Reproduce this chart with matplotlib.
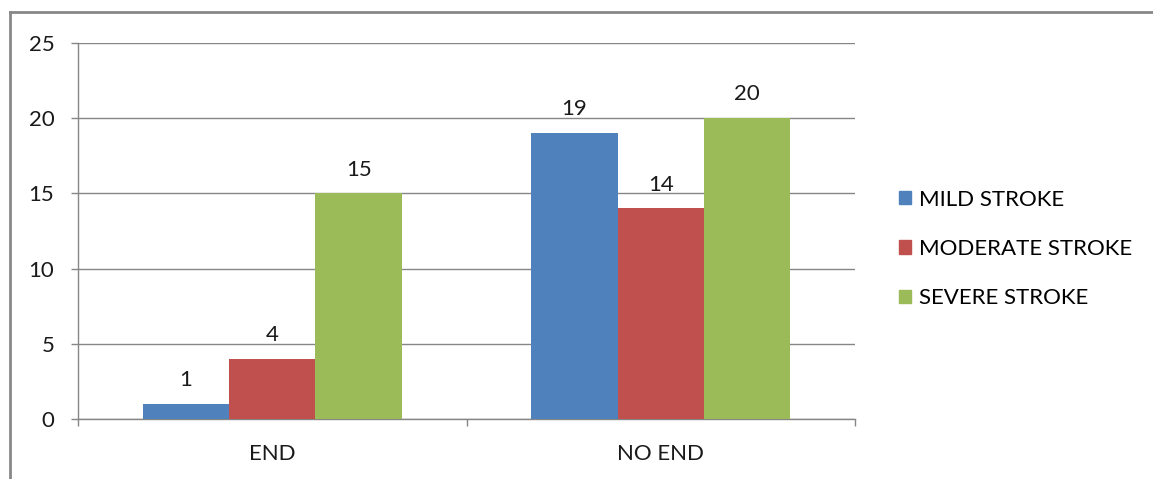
import matplotlib
matplotlib.use("Agg")
import matplotlib.pyplot as plt
from matplotlib.lines import Line2D
import numpy as np

categories = ["END", "NO END"]
series_names = ["MILD STROKE", "MODERATE STROKE", "SEVERE STROKE"]
mild = [1, 19]
moderate = [4, 14]
severe = [15, 20]
yticks = [0, 5, 10, 15, 20, 25]

colors = ["#4F81BD", "#C0504D", "#9BBB59"]
grid_color = "#868686"
fs = 16

plt.rcParams["font.family"] = ["Lato", "DejaVu Sans"]

W, H = 1153, 479
fig = plt.figure(figsize=(W / 100, H / 100), dpi=100)
ax = fig.add_axes([78 / W, 1 - 419 / H, (855 - 78) / W, (419 - 43) / H])

x = np.arange(len(categories))
bw = 1 / 4.5
values = [mild, moderate, severe]
for i, (name, vals, c) in enumerate(zip(series_names, values, colors)):
    pos = x + (i - 1) * bw
    bars = ax.bar(pos, vals, width=bw, color=c, label=name, zorder=3)
    for b, v in zip(bars, vals):
        ax.annotate(str(v), (b.get_x() + b.get_width() / 2, v),
                    xytext=(0, 10), textcoords="offset points",
                    ha="center", va="bottom", fontsize=fs, color="#1a1a1a")

ax.set_xlim(-0.5, 1.5)
ax.set_ylim(0, 25)
ax.set_yticks(yticks)
ax.set_yticklabels([str(t) for t in yticks], fontsize=fs, color="#1a1a1a")
ax.yaxis.grid(True, color=grid_color, linewidth=1, zorder=0)
ax.set_axisbelow(True)

# category labels centered, tick marks on category boundaries
ax.set_xticks(x)
ax.set_xticklabels(categories, fontsize=fs, color="#1a1a1a")
ax.tick_params(axis="x", which="major", length=0, pad=18)
ax.set_xticks([-0.5, 0.5, 1.5], minor=True)
ax.tick_params(axis="x", which="minor", length=5, color=grid_color, width=1)
ax.tick_params(axis="y", length=5, color=grid_color, width=1, pad=12)

for s in ["top", "right"]:
    ax.spines[s].set_visible(False)
for s in ["left", "bottom"]:
    ax.spines[s].set_color(grid_color)
    ax.spines[s].set_linewidth(1)

handles = [plt.Rectangle((0, 0), 1, 1, color=c) for c in colors]
fig.legend(handles, series_names, loc="center left",
           bbox_to_anchor=(879 / W, 1 - 249 / H), frameon=False,
           fontsize=fs, handlelength=0.55, handleheight=0.55,
           handletextpad=0.35, labelspacing=1.32)

# outer frame on top and left edges
fig.add_artist(Line2D([10 / W, 1], [1 - 12 / H, 1 - 12 / H],
                      color="#888888", linewidth=2, transform=fig.transFigure))
fig.add_artist(Line2D([10 / W, 10 / W], [0, 1 - 12 / H],
                      color="#888888", linewidth=2, transform=fig.transFigure))

fig.savefig("out.png", dpi=100)
